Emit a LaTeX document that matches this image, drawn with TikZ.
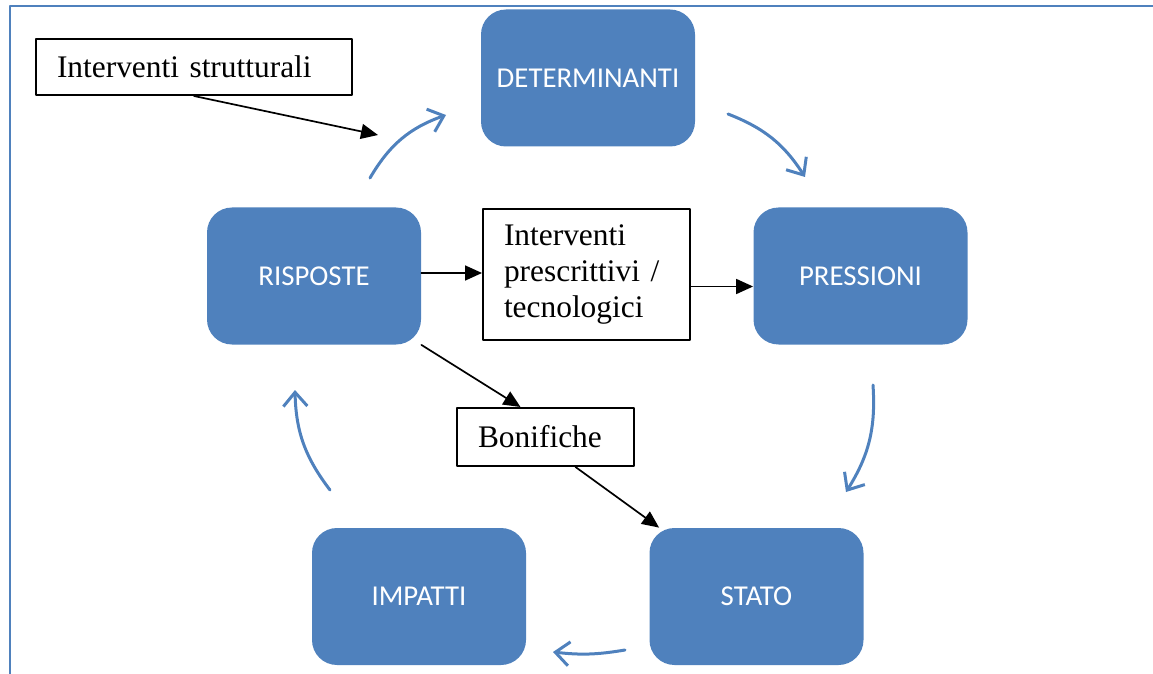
\documentclass[tikz,border=0pt]{standalone}
\usepackage{fontspec}
\setmainfont{Liberation Serif}
\newfontfamily\calibri{Carlito}
\usetikzlibrary{arrows.meta}
\definecolor{bluoffice}{HTML}{4F81BD}
\begin{document}
\begin{tikzpicture}[x=0.5pt, y=-0.5pt, line join=round, line cap=round,
	blocco/.style={fill=bluoffice, rounded corners=12.5pt, minimum width=107pt, minimum height=68.5pt, text=white, font=\calibri\fontsize{14.4}{16}\selectfont},
	testo/.style={draw, line width=1pt, align=left, inner xsep=10.5pt, inner ysep=0pt, font=\fontsize{15.7}{18}\selectfont},
	ciclo/.style={bluoffice, line width=1.5pt, -{Straight Barb[length=7pt, width=12pt]}},
	freccia/.style={line width=0.85pt, -{Triangle[length=8.5pt, width=7.5pt]}}]
	\useasboundingbox (0,0) rectangle (1153,674);
	\draw[bluoffice, line width=1pt, line cap=butt] (10,674) -- (10,6) -- (1153,6);
	% blocchi DPSIR
	\node[blocco] (det) at (588,78) {DETERMINANTI};
	\node[blocco] (pre) at (860.5,276) {PRESSIONI};
	\node[blocco] (sta) at (756.5,596.5) {STATO};
	\node[blocco] (imp) at (419,596.5) {IMPATTI};
	\node[blocco] (ris) at (314,276) {RISPOSTE};
	% interventi
	\node[testo, text width=137pt, minimum height=28pt] (str) at (194,67) {Interventi strutturali};
	\node[testo, text width=82.5pt, minimum height=65.5pt] (prs) at (586.5,274.5) {Interventi\\ prescrittivi /\\ tecnologici};
	\node[testo, text width=67.5pt, minimum height=29pt] (bon) at (545.5,437) {Bonifiche};
	% ciclo
	\coordinate (c1) at (370,178); \coordinate (c2) at (446,115);
	\coordinate (c3) at (728,114); \coordinate (c4) at (805,177);
	\coordinate (c5) at (873,385); \coordinate (c6) at (846,492);
	\coordinate (c7) at (625,650); \coordinate (c8) at (553,652);
	\coordinate (c9) at (330,490); \coordinate (c10) at (295,390);
	\draw[ciclo] (c1) to[bend left=20] (c2);
	\draw[ciclo] (c3) to[bend left=18] (c4);
	\draw[ciclo] (c5) to[bend left=18] (c6);
	\draw[ciclo] (c7) to[bend left=8] (c8);
	\draw[ciclo] (c9) to[bend left=18] (c10);
	% frecce nere
	\coordinate (punta) at (378,135);
	\draw[freccia] (str.south) -- (punta);
	\draw[freccia] ([yshift=1.5pt]ris.east) -- ([yshift=1.5pt]ris.east -| prs.west);
	\draw[freccia] ([yshift=-6pt]prs.east) -- ([yshift=-6pt]prs.east -| pre.west);
	\draw[freccia] (ris.south east) -- ([xshift=-12.5pt]bon.north);
	\draw[freccia] ([xshift=15pt]bon.south) -- ([xshift=5pt]sta.north west);
\end{tikzpicture}
\end{document}
